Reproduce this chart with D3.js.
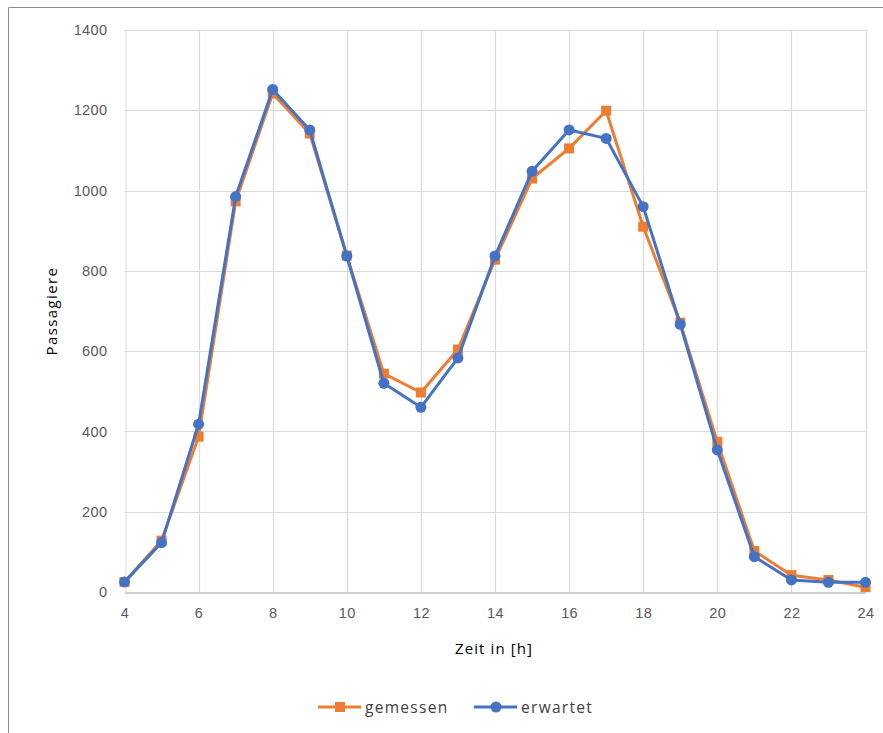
<!DOCTYPE html>
<html>
<head>
<meta charset="utf-8">
<script src="https://cdn.jsdelivr.net/npm/d3@7"></script>
<style>
  html, body { margin: 0; padding: 0; background: #fff; }
  svg { display: block; font-family: "Open Sans", "Noto Sans", sans-serif; }
</style>
</head>
<body>
<svg id="chart" width="883" height="733"></svg>
<script>
// Hourly passenger counts: measured vs. expected
const hours = [4, 5, 6, 7, 8, 9, 10, 11, 12, 13, 14, 15, 16, 17, 18, 19, 20, 21, 22, 23, 24];
const gemessen = [25, 128, 387, 973, 1242, 1142, 838, 544, 497, 604, 828, 1030, 1105, 1199, 910, 671, 374, 102, 42, 30, 12];
const erwartet = [25, 123, 418, 985, 1252, 1151, 837, 520, 460, 583, 837, 1048, 1151, 1130, 960, 667, 354, 88, 30, 24, 24];
const xTicks = [4, 6, 8, 10, 12, 14, 16, 18, 20, 22, 24];
const yTicks = [0, 200, 400, 600, 800, 1000, 1200, 1400];
const seriesNames = ["gemessen", "erwartet"];
const seriesColors = ["#ED7D31", "#4472C4"];

const svg = d3.select("#chart");

// outer frame of the chart area
svg.append("path")
  .attr("d", "M8.5,740 V7.5 H890")
  .attr("fill", "none")
  .attr("stroke", "#8c8c8c")
  .attr("stroke-width", 1);

const x = d3.scaleLinear().domain([4, 24]).range([124.5, 865.5]);
const y = d3.scaleLinear().domain([0, 1400]).range([592, 30]);

// gridlines
const grid = svg.append("g");
grid.selectAll("line.h").data(yTicks.filter(d => d > 0)).join("line")
  .attr("x1", x(4)).attr("x2", x(24))
  .attr("y1", d => Math.round(y(d)) + 0.5).attr("y2", d => Math.round(y(d)) + 0.5)
  .attr("stroke", "#d9d9d9").attr("stroke-width", 1.2);
grid.selectAll("line.v").data(xTicks.filter(d => d > 4)).join("line")
  .attr("x1", d => Math.round(x(d)) + 0.5).attr("x2", d => Math.round(x(d)) + 0.5)
  .attr("y1", y(0)).attr("y2", y(1400))
  .attr("stroke", "#d9d9d9").attr("stroke-width", 1.2);

// axes
const xAxis = d3.axisBottom(x).tickValues(xTicks).tickFormat(d3.format("d")).tickSize(0).tickPadding(15);
const gx = svg.append("g").attr("transform", `translate(0,${Math.round(y(0)) + 0.5})`).call(xAxis);
gx.select(".domain").attr("stroke", "#bfbfbf").attr("stroke-width", 1.3);
gx.selectAll("text").attr("fill", "#595959").attr("font-size", 14.5).attr("letter-spacing", 0.4);

const yAxis = d3.axisLeft(y).tickValues(yTicks).tickFormat(d3.format("d")).tickSize(0).tickPadding(18);
const gy = svg.append("g").attr("transform", `translate(${Math.round(x(4)) + 0.5},0)`).call(yAxis);
gy.select(".domain").attr("stroke", "#d9d9d9");
gy.selectAll("text").attr("fill", "#595959").attr("font-size", 14.5).attr("letter-spacing", 0.4);

// axis titles
svg.append("text")
  .attr("x", 494).attr("y", 654)
  .attr("text-anchor", "middle")
  .attr("font-size", 15).attr("letter-spacing", 1.1).attr("fill", "#000")
  .text("Zeit in [h]");
svg.append("text")
  .attr("transform", "translate(57,311) rotate(-90)")
  .attr("text-anchor", "middle")
  .attr("font-size", 15).attr("letter-spacing", 1.4).attr("fill", "#000")
  .text("Passagiere");

// series
const series = [gemessen, erwartet];
const line = d3.line().x((d, i) => x(hours[i])).y(d => y(d));

series.forEach((vals, s) => {
  const g = svg.append("g");
  g.append("path")
    .attr("d", line(vals))
    .attr("fill", "none")
    .attr("stroke", seriesColors[s])
    .attr("stroke-width", 3)
    .attr("stroke-linejoin", "round");
  if (s === 0) {
    g.selectAll("rect").data(vals).join("rect")
      .attr("x", (d, i) => x(hours[i]) - 5)
      .attr("y", d => y(d) - 5)
      .attr("width", 10).attr("height", 10)
      .attr("fill", seriesColors[s]);
  } else {
    g.selectAll("circle").data(vals).join("circle")
      .attr("cx", (d, i) => x(hours[i]))
      .attr("cy", d => y(d))
      .attr("r", 5.5)
      .attr("fill", seriesColors[s]);
  }
});

// legend
const legend = svg.append("g").attr("transform", "translate(0,707)");
const legendX = [318, 474];
seriesNames.forEach((name, s) => {
  const lg = legend.append("g").attr("transform", `translate(${legendX[s]},0)`);
  lg.append("line").attr("x1", 0).attr("x2", 43).attr("y1", 0).attr("y2", 0)
    .attr("stroke", seriesColors[s]).attr("stroke-width", 3);
  if (s === 0) {
    lg.append("rect").attr("x", 17).attr("y", -5).attr("width", 10).attr("height", 10)
      .attr("fill", seriesColors[s]);
  } else {
    lg.append("circle").attr("cx", 22).attr("cy", 0).attr("r", 5.5).attr("fill", seriesColors[s]);
  }
  lg.append("text").attr("x", 47).attr("y", 5.5)
    .attr("font-size", 15.5).attr("letter-spacing", 1.3).attr("fill", "#404040")
    .text(name);
});
</script>
</body>
</html>
